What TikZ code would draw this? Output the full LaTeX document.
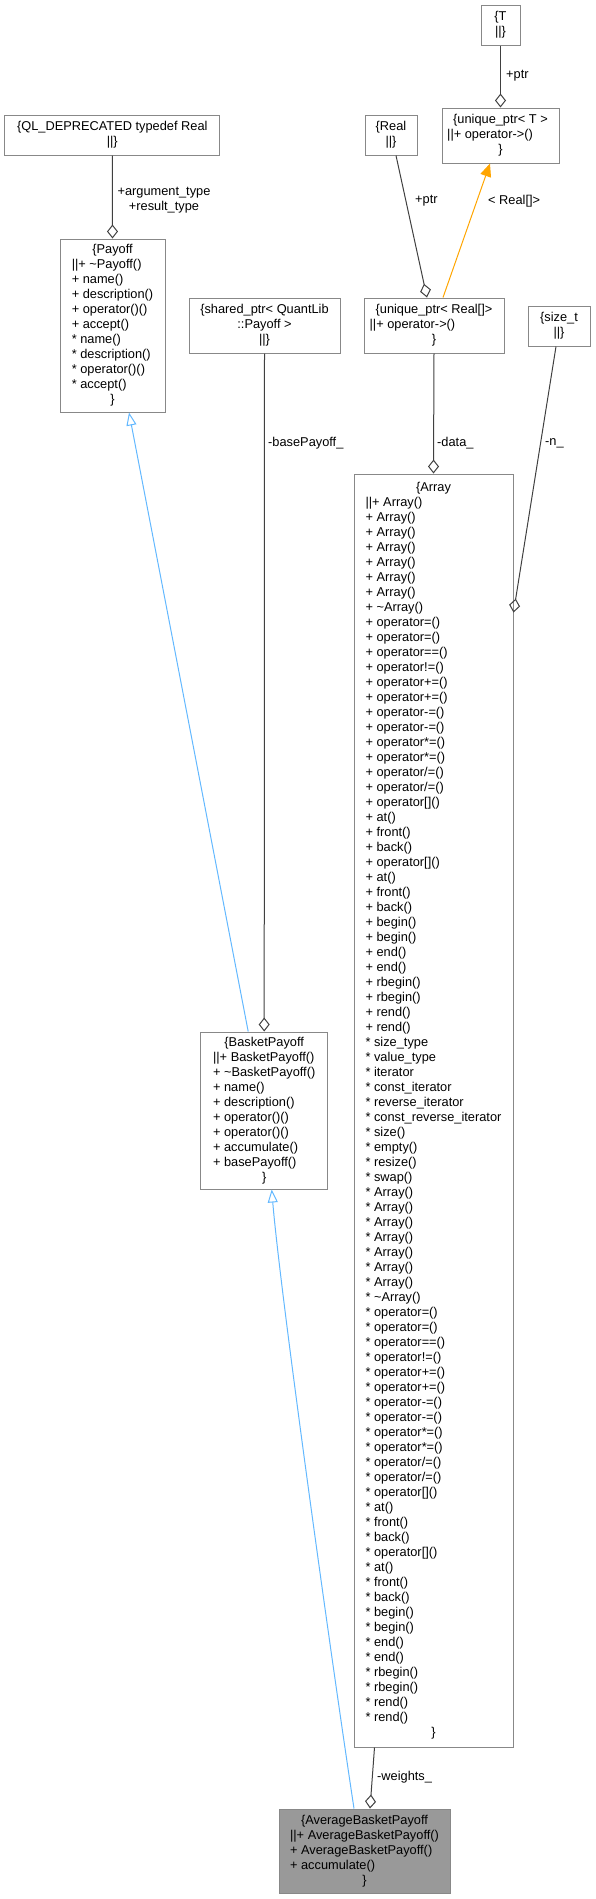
\documentclass[tikz,border=0pt]{standalone}
\usepackage{fontspec}
\setmainfont{Liberation Sans}
\usetikzlibrary{arrows.meta,calc}
\definecolor{boxc}{HTML}{888888}
\definecolor{conc}{HTML}{404040}
\definecolor{inhc}{HTML}{63B8FF}
\definecolor{tmplc}{HTML}{FFA500}
\definecolor{hlc}{HTML}{999999}
\newcommand\mcl[1]{\multicolumn{1}{c}{#1}}
\newcommand\tld{\textasciitilde}
\newcommand\txtfont{\fontsize{12.8}{15}\selectfont}
\begin{document}
\begin{tikzpicture}[x=1pt,y=-1pt,
  box/.style={draw=boxc, line width=1pt, fill=white, inner sep=0pt, font=\txtfont},
  conn/.style={draw=conc, line width=1pt},
  agg/.style={conn, -{Diamond[open, length=14pt, width=11pt]}},
  inh/.style={draw=inhc, line width=1pt, -{Triangle[open, length=13pt, width=10pt]}},
  tmpl/.style={draw=tmplc, line width=1pt, -{Triangle[length=13pt, width=11pt]}},
  lbl/.style={font=\txtfont, inner sep=0pt, anchor=west}]
\useasboundingbox (0,0) rectangle (595,1899);

\node[box, minimum width=215pt, minimum height=40pt] (ql) at (112.3,135)
  {\begin{tabular}{@{}c@{}}\{QL\_DEPRECATED typedef Real\\ ||\}\end{tabular}};

\node[box, minimum width=105pt, minimum height=173pt] (payoff) at (112.5,325.5)
  {\begin{tabular}{@{}l@{}}\mcl{\{Payoff}\\
  ||+ \tld Payoff()\\ + name()\\ + description()\\ + operator()()\\ + accept()\\
  {*} name()\\ {*} description()\\ {*} operator()()\\ {*} accept()\\ \mcl{\}}\end{tabular}};

\node[box, minimum width=151pt, minimum height=55pt] (sp) at (264.5,325.5)
  {\begin{tabular}{@{}c@{}}\{shared\_ptr< QuantLib\\ ::Payoff >\\ ||\}\end{tabular}};

\node[box, minimum width=39pt, minimum height=40pt] (tt) at (500.5,25)
  {\begin{tabular}{@{}c@{}}\{T\\ ||\}\end{tabular}};

\node[box, minimum width=117pt, minimum height=55pt] (upt) at (500.5,135.5)
  {\begin{tabular}{@{}l@{}}\mcl{\{unique\_ptr< T >}\\ ||+ operator->()\\ \mcl{\}}\end{tabular}};

\node[box, minimum width=52pt, minimum height=40pt] (real) at (391,135)
  {\begin{tabular}{@{}c@{}}\{Real\\ ||\}\end{tabular}};

\node[box, minimum width=140pt, minimum height=55pt] (upr) at (434,325.5)
  {\begin{tabular}{@{}l@{}}\mcl{\{unique\_ptr< Real[]>}\\ ||+ operator->()\\ \mcl{\}}\end{tabular}};

\node[box, minimum width=62pt, minimum height=40pt] (szt) at (559,326)
  {\begin{tabular}{@{}c@{}}\{size\_t\\ ||\}\end{tabular}};

\node[box, minimum width=159pt, minimum height=1273pt] (arr) at (433.5,1110.5)
  {\begin{tabular}{@{}l@{}}\mcl{\{Array}\\
  ||+ Array()\\ + Array()\\ + Array()\\ + Array()\\ + Array()\\ + Array()\\ + Array()\\
  + \tld Array()\\ + operator=()\\ + operator=()\\ + operator==()\\ + operator!=()\\
  + operator+=()\\ + operator+=()\\ + operator-=()\\ + operator-=()\\
  + operator*=()\\ + operator*=()\\ + operator/=()\\ + operator/=()\\
  + operator[]()\\ + at()\\ + front()\\ + back()\\
  + operator[]()\\ + at()\\ + front()\\ + back()\\
  + begin()\\ + begin()\\ + end()\\ + end()\\ + rbegin()\\ + rbegin()\\ + rend()\\ + rend()\\
  {*} size\_type\\ {*} value\_type\\ {*} iterator\\ {*} const\_iterator\\
  {*} reverse\_iterator\\ {*} const\_reverse\_iterator\\
  {*} size()\\ {*} empty()\\ {*} resize()\\ {*} swap()\\
  {*} Array()\\ {*} Array()\\ {*} Array()\\ {*} Array()\\ {*} Array()\\ {*} Array()\\ {*} Array()\\
  {*} \tld Array()\\ {*} operator=()\\ {*} operator=()\\ {*} operator==()\\ {*} operator!=()\\
  {*} operator+=()\\ {*} operator+=()\\ {*} operator-=()\\ {*} operator-=()\\
  {*} operator*=()\\ {*} operator*=()\\ {*} operator/=()\\ {*} operator/=()\\
  {*} operator[]()\\ {*} at()\\ {*} front()\\ {*} back()\\
  {*} operator[]()\\ {*} at()\\ {*} front()\\ {*} back()\\
  {*} begin()\\ {*} begin()\\ {*} end()\\ {*} end()\\ {*} rbegin()\\ {*} rbegin()\\ {*} rend()\\ {*} rend()\\
  \mcl{\}}\end{tabular}};

\node[box, minimum width=127pt, minimum height=157pt] (bp) at (264.2,1110.5)
  {\begin{tabular}{@{}l@{}}\mcl{\{BasketPayoff}\\
  ||+ BasketPayoff()\\ + \tld BasketPayoff()\\ + name()\\ + description()\\
  + operator()()\\ + operator()()\\ + accumulate()\\ + basePayoff()\\ \mcl{\}}\end{tabular}};

\node[box, fill=hlc, minimum width=171pt, minimum height=84pt] (abp) at (364.5,1851)
  {\begin{tabular}{@{}l@{}}\mcl{\{AverageBasketPayoff}\\
  ||+ AverageBasketPayoff()\\ + AverageBasketPayoff()\\ + accumulate()\\ \mcl{\}}\end{tabular}};

% connectors
\draw[agg] (ql.south) -- (payoff.north);
\draw[agg] (sp.south) -- (bp.north);
\draw[agg] (tt.south) -- (upt.north);
\draw[agg] ($(real.south)+(5pt,0pt)$) -- ($(upr.north)+(-7pt,0pt)$);
\draw[tmpl] ($(upr.north)+(9pt,0pt)$) -- ($(upt.south)+(-10.5pt,0pt)$);
\draw[agg] (upr.south) -- (arr.north);
\coordinate (nend) at ($(arr.north east)+(0pt,-139pt)$);
\draw[agg] ($(szt.south)+(-3pt,0pt)$) -- (nend);
\draw[inh] ($(bp.north)+(-16pt,0pt)$) -- ($(payoff.south)+(16.5pt,0pt)$);
\draw[inh] ($(abp.north)+(-10.5pt,0pt)$) .. controls (330,1650) and (280,1290) .. ($(bp.south)+(7.5pt,0pt)$);
\draw[agg] ($(arr.south)+(-59pt,0pt)$) -- ($(abp.north)+(5.5pt,0pt)$);

% labels
\node[font=\txtfont, inner sep=0pt, align=center] (lqa) at (164,200.5) {+argument\_type\\+result\_type};
\node[lbl] (lbase) at (268,443) {-basePayoff\_};
\node[lbl] (ldata) at (437,443) {-data\_};
\node[lbl] (ln) at (545,443) {-n\_};
\node[lbl] (lptr1) at (415,201) {+ptr};
\node[lbl] (lptr2) at (506,76) {+ptr};
\node[lbl] (lreal) at (488,201) {< Real[]>};
\node[lbl] (lw) at (377,1777) {-weights\_};
\end{tikzpicture}
\end{document}
